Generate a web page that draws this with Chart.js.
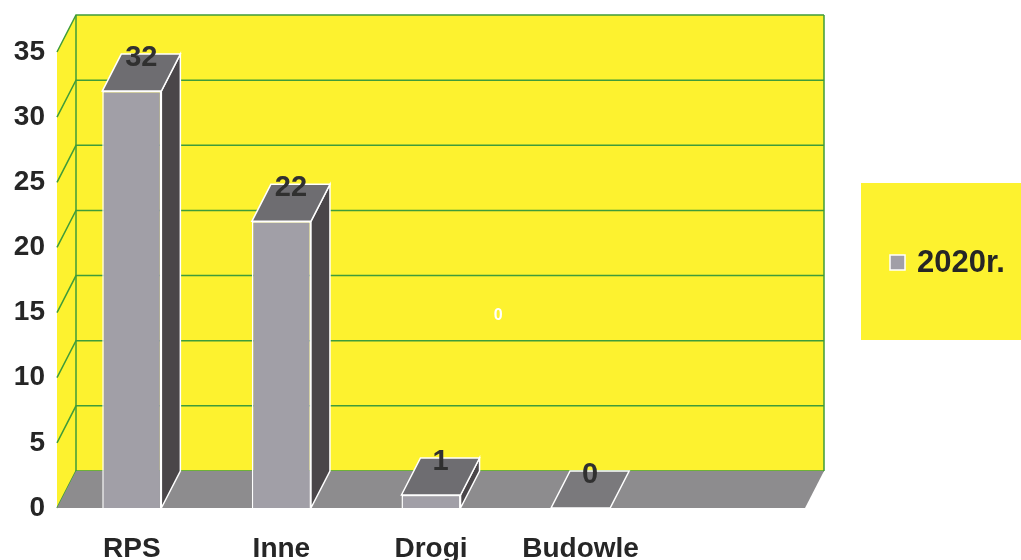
<!DOCTYPE html>
<html>
<head>
<meta charset="utf-8">
<script src="https://cdn.jsdelivr.net/npm/chart.js@4.4.1/dist/chart.umd.min.js"></script>
<style>
  html, body { margin: 0; padding: 0; background: #fff; }
  #wrap { width: 1021px; height: 560px; }
</style>
</head>
<body>
<div id="wrap"><canvas id="chart" width="1021" height="560"></canvas></div>
<script>
// data
var categories = ['RPS', 'Inne', 'Drogi', 'Budowle', ''];
var values2020 = [32, 22, 1, 0, null];
var seriesLabel = '2020r.';
var yTicks = [0, 5, 10, 15, 20, 25, 30, 35];
var strayNote = '0'; // white stray label printed on the back wall

var YELLOW = '#fdf22f';
var GREEN = '#3f9c3a';
var FRONT = '#a19fa7';
var TOP = '#6e6d71';
var SIDE = '#4a4649';
var FLOOR = '#8d8c8e';
var TEXT = '#262626';
var FONT = '"Liberation Sans", Arial, sans-serif';
var DX = 19, DY = -37;

function poly(ctx, pts) {
    ctx.beginPath();
    ctx.moveTo(pts[0][0], pts[0][1]);
    for (var i = 1; i < pts.length; i++) ctx.lineTo(pts[i][0], pts[i][1]);
    ctx.closePath();
}

var threeD = {
    id: 'threeD',
    beforeDatasetsDraw: function (chart) {
        var ctx = chart.ctx, a = chart.chartArea, ys = chart.scales.y, xs = chart.scales.x;
        ctx.save();
        // left wall + back wall
        ctx.fillStyle = YELLOW;
        poly(ctx, [[a.left, a.top], [a.left + DX, a.top + DY], [a.left + DX, a.bottom + DY], [a.left, a.bottom]]);
        ctx.fill();
        ctx.fillRect(a.left + DX, a.top + DY, a.right - a.left, a.bottom - a.top);

        // grid lines on the walls
        ctx.strokeStyle = GREEN;
        ctx.lineWidth = 1.5;
        yTicks.forEach(function (v) {
            var py = ys.getPixelForValue(v);
            ctx.beginPath();
            ctx.moveTo(a.left, py);
            ctx.lineTo(a.left + DX, py + DY);
            ctx.lineTo(a.right + DX, py + DY);
            ctx.stroke();
        });
        ctx.beginPath();
        ctx.moveTo(a.left + DX, a.top + DY);
        ctx.lineTo(a.left + DX, a.bottom + DY);
        ctx.moveTo(a.right + DX, a.top + DY);
        ctx.lineTo(a.right + DX, a.bottom + DY);
        ctx.stroke();

        // stray white label
        ctx.fillStyle = '#ffffff';
        ctx.font = 'bold 16px ' + FONT;
        ctx.textAlign = 'center';
        ctx.textBaseline = 'middle';
        ctx.fillText(strayNote, xs.getPixelForValue(2.45), ys.getPixelForValue(14.8));

        // floor
        ctx.fillStyle = FLOOR;
        poly(ctx, [[a.left, a.bottom], [a.right, a.bottom], [a.right + DX, a.bottom + DY], [a.left + DX, a.bottom + DY]]);
        ctx.fill();
        ctx.restore();
    },
    afterDatasetsDraw: function (chart) {
        var ctx = chart.ctx;
        var meta = chart.getDatasetMeta(0);
        ctx.save();
        ctx.strokeStyle = '#ffffff';
        ctx.lineWidth = 1.5;
        meta.data.forEach(function (bar, i) {
            if (values2020[i] == null) return;
            var p = bar.getProps(['x', 'y', 'width', 'base'], true);
            var l = p.x - p.width / 2, r = p.x + p.width / 2, t = p.y, b = p.base;
            if (b - t > 1) {
                ctx.fillStyle = SIDE;
                poly(ctx, [[r, t], [r + DX, t + DY], [r + DX, b + DY], [r, b]]);
                ctx.fill();
                ctx.stroke();
                ctx.fillStyle = TOP;
            } else {
                ctx.fillStyle = '#7a797c';
            }
            poly(ctx, [[l, t], [l + DX, t + DY], [r + DX, t + DY], [r, t]]);
            ctx.fill();
            ctx.stroke();

            ctx.fillStyle = '#303030';
            ctx.font = 'bold 29px ' + FONT;
            ctx.textAlign = 'center';
            ctx.textBaseline = 'middle';
            ctx.fillText(String(values2020[i]), p.x + DX / 2, t + DY + 4);
        });
        ctx.restore();
    },
    afterDraw: function (chart) {
        var ctx = chart.ctx;
        var bx = chart.width - 160, by = 183;
        ctx.save();
        ctx.fillStyle = YELLOW;
        ctx.fillRect(bx, by, 160, 157);
        ctx.fillStyle = FRONT;
        ctx.fillRect(bx + 29, by + 72, 15, 15);
        ctx.strokeStyle = '#ffffff';
        ctx.lineWidth = 1.5;
        ctx.strokeRect(bx + 29, by + 72, 15, 15);
        ctx.fillStyle = TEXT;
        ctx.font = 'bold 31px ' + FONT;
        ctx.textAlign = 'left';
        ctx.textBaseline = 'middle';
        ctx.fillText(seriesLabel, bx + 56, by + 80);
        ctx.restore();
    }
};

var ctx = document.getElementById('chart').getContext('2d');
var chart = new Chart(ctx, {
    type: 'bar',
    data: {
        labels: categories,
        datasets: [{
            label: seriesLabel,
            data: values2020,
            backgroundColor: FRONT,
            borderColor: '#ffffff',
            borderWidth: 1.5,
            barPercentage: 0.79,
            categoryPercentage: 0.5
        }]
    },
    options: {
        responsive: false,
        animation: false,
        layout: { padding: { top: 52, right: 216, left: 0, bottom: 0 } },
        plugins: {
            legend: { display: false },
            tooltip: { enabled: false }
        },
        scales: {
            x: {
                grid: { display: false, drawTicks: false },
                border: { display: false },
                ticks: {
                    color: TEXT,
                    padding: 24,
                    font: { family: FONT, size: 28, weight: 'bold' }
                },
                afterFit: function (scale) { scale.height = 52; }
            },
            y: {
                min: yTicks[0],
                max: yTicks[yTicks.length - 1],
                grid: { display: false, drawTicks: false },
                border: { display: false },
                ticks: {
                    stepSize: 5,
                    color: TEXT,
                    padding: 12,
                    font: { family: FONT, size: 28, weight: 'bold' }
                },
                afterFit: function (scale) { scale.width = 57; }
            }
        }
    },
    plugins: [threeD]
});
</script>
</body>
</html>
